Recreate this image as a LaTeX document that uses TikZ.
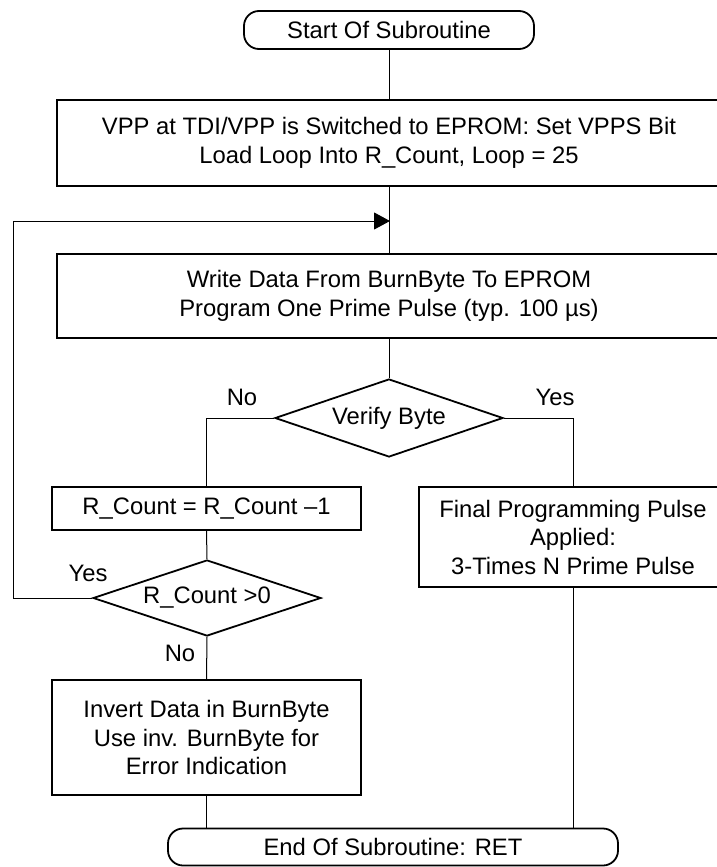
\documentclass[tikz,border=0pt]{standalone}
\usepackage{fontspec}
\setmainfont{Liberation Sans}
\usetikzlibrary{shapes.geometric,arrows.meta}
\begin{document}
\begin{tikzpicture}[x=1pt,y=-1pt,
  every node/.style={font=\fontsize{23.8}{28.5}\selectfont, align=center, inner sep=0pt},
  procbox/.style={draw, line width=1.8pt, rectangle},
  term/.style={draw, line width=1.8pt, rectangle, rounded corners=15pt},
  decision/.style={draw, line width=1.8pt, diamond, aspect=2.9},
  conn/.style={line width=1pt},
  lbl/.style={}
]
\useasboundingbox (0,0) rectangle (717,867);
\fill[white] (0,0) rectangle (717,867);
\clip (0,0) rectangle (717,867);

\node[term, minimum width=290pt, minimum height=38pt] (start) at (389,30) {Start Of Subroutine};
\node[procbox, minimum width=664pt, minimum height=86pt] (b1) at (389,143)
  {VPP at TDI/VPP is Switched to EPROM: Set VPPS Bit\\Load Loop Into R\_Count, Loop = 25};
\node[procbox, minimum width=664pt, minimum height=84pt] (b2) at (389,296)
  {Write Data From BurnByte To EPROM\\Program One Prime Pulse (typ. 100 µs)};
\node[decision, minimum width=228pt, minimum height=78pt] (d1) at (389,418) {Verify Byte};
\node[procbox, minimum width=309pt, minimum height=43pt] (b3) at (206.5,508.5) {R\_Count = R\_Count –1};
\node[procbox, minimum width=308pt, minimum height=100pt] (b4) at (573,537)
  {Final Programming Pulse\\Applied:\\3-Times N Prime Pulse};
\node[decision, minimum width=228pt, minimum height=76pt] (d2) at (207,598) {R\_Count >0};
\node[procbox, minimum width=309pt, minimum height=115pt] (b5) at (206.5,737.5)
  {Invert Data in BurnByte\\Use inv. BurnByte for\\Error Indication};
\node[term, minimum width=450pt, minimum height=37pt] (end) at (393,847) {End Of Subroutine: RET};

\node[lbl] (no1) at (242,397) {No};
\node[lbl] (yes1) at (555,397) {Yes};
\node[lbl] (yes2) at (88,573) {Yes};
\node[lbl] (no2) at (180,653) {No};

\coordinate (j) at (390,221);
\coordinate (lx) at (13,221);

\draw[conn] (start.south) -- (b1.north);
\draw[conn] (b1.south) -- (b2.north);
\draw[conn] (d2.west) -| (lx);
\draw[conn, -{Triangle[length=16pt,width=17pt]}] (lx) -- (j);
\draw[conn] (b2.south) -- (d1.north);
\draw[conn] (d1.west) -| (b3.north);
\draw[conn] (d1.east) -| (b4.north);
\draw[conn] (b3.south) -- (d2.north);
\draw[conn] (d2.south) -- (b5.north);
\draw[conn] (b5.south) -- (b5.south |- end.north);
\draw[conn] (b4.south) -- (b4.south |- end.north);
\end{tikzpicture}
\end{document}
